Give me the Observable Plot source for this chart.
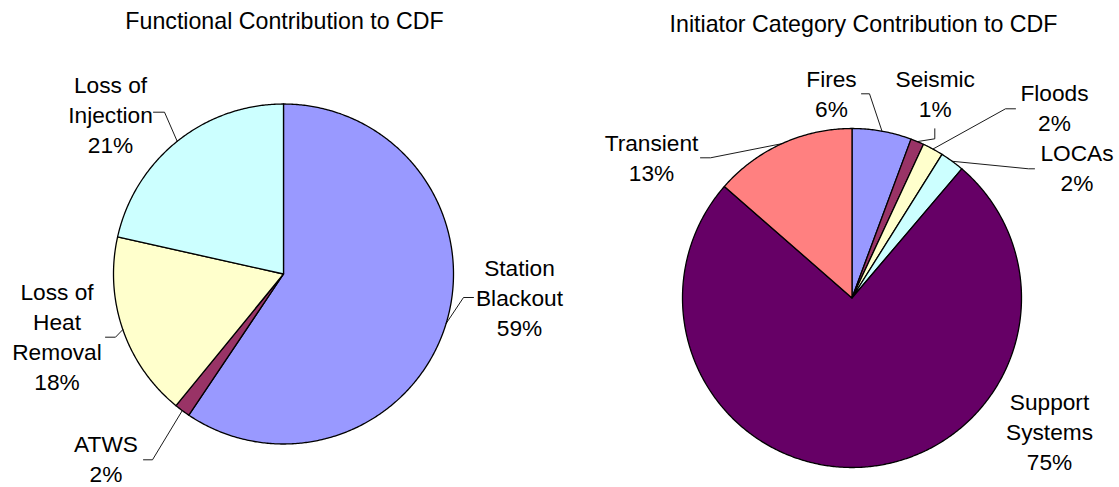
<!DOCTYPE html>
<html>
<head>
<meta charset="utf-8">
<script src="https://cdn.jsdelivr.net/npm/d3@7"></script>
<script src="https://cdn.jsdelivr.net/npm/@observablehq/plot@0.6"></script>
<style>
  html, body { margin: 0; padding: 0; background: #fff; }
  #chart svg { display: block; }
</style>
</head>
<body>
<div id="chart"></div>
<script>
// ---------- DATA ----------
const functionalTitle = "Functional Contribution to CDF";
const functionalCategories = ["Station Blackout", "ATWS", "Loss of Heat Removal", "Loss of Injection"];
const functionalValues = [59.4, 1.5, 17.6, 21.5];
const functionalPercentLabels = ["59%", "2%", "18%", "21%"];
const functionalLabelLines = [["Station", "Blackout"], ["ATWS"], ["Loss of", "Heat", "Removal"], ["Loss of", "Injection"]];

const initiatorTitle = "Initiator Category Contribution to CDF";
const initiatorCategories = ["Fires", "Seismic", "Floods", "LOCAs", "Support Systems", "Transient"];
const initiatorValues = [5.66, 1.27, 1.98, 2.3, 75.2, 13.56];
const initiatorPercentLabels = ["6%", "1%", "2%", "2%", "75%", "13%"];
const initiatorLabelLines = [["Fires"], ["Seismic"], ["Floods"], ["LOCAs"], ["Support", "Systems"], ["Transient"]];

// ---------- STYLES / LAYOUT ----------
const functionalPalette = ["#9999FF", "#993366", "#FFFFCC", "#CCFFFF"];
const initiatorPalette = ["#9999FF", "#993366", "#FFFFCC", "#CCFFFF", "#660066", "#FF8080"];

const W = 1119, H = 487;
const FONT = "'Liberation Sans', Arial, Helvetica, sans-serif";
const LABEL_SIZE = 22.7, TITLE_SIZE = 23.2, LINE_STEP = 30;

const layouts = [
  {
    title: functionalTitle, titleX: 284, titleY: 28.5,
    cx: 283, cy: 273.5, r: 170,
    cats: functionalCategories, values: functionalValues, pct: functionalPercentLabels,
    lines: functionalLabelLines, palette: functionalPalette,
    labels: [
      {x: 519, b: 275, leader: [[473, 297], [463, 297]]},
      {x: 105.5, b: 451.7, leader: [[143, 459.3], [152, 459.3]]},
      {x: 56.5, b: 299.3, leader: [[105, 336.7], [115, 336.7]]},
      {x: 110, b: 92, leader: [[153, 111.7], [164, 111.7]]}
    ]
  },
  {
    title: initiatorTitle, titleX: 863, titleY: 31.5,
    cx: 851.5, cy: 297.5, r: 169.5,
    cats: initiatorCategories, values: initiatorValues, pct: initiatorPercentLabels,
    lines: initiatorLabelLines, palette: initiatorPalette,
    labels: [
      {x: 831, b: 86.7, leader: [[861, 93.3], [869, 93.3]]},
      {x: 934.7, b: 86.7, leader: [[934.3, 128.3], [934.3, 138.3]]},
      {x: 1054, b: 100.8, leader: [[1015, 108.3], [1005, 108.3]]},
      {x: 1076.5, b: 160.7, leader: [[1034, 168.3], [1028, 168.3]]},
      {x: 1049, b: 409, leader: null},
      {x: 651, b: 150, leader: [[700, 157.3], [710, 157.3]]}
    ]
  }
];

// ---------- BUILD TABLES ----------
const slicePts = [], leaderPts = [], textRows = [], titleRows = [];
layouts.forEach((L, pi) => {
  titleRows.push({x: L.titleX, y: L.titleY, text: L.title});
  const arcs = d3.pie().sort(null).value(d => d)(L.values);
  arcs.forEach((a, i) => {
    const key = `p${pi}-s${i}`;
    const color = L.palette[i];
    slicePts.push({key, color, px: L.cx, py: L.cy});
    const n = Math.max(2, Math.ceil((a.endAngle - a.startAngle) / (Math.PI / 360)));
    for (let k = 0; k <= n; k++) {
      const t = a.startAngle + (a.endAngle - a.startAngle) * k / n;
      slicePts.push({key, color, px: L.cx + L.r * Math.sin(t), py: L.cy - L.r * Math.cos(t)});
    }
    const lab = L.labels[i];
    const lines = [...L.lines[i], L.pct[i]];
    lines.forEach((s, j) => textRows.push({x: lab.x, y: lab.b + j * LINE_STEP, text: s}));
    if (lab.leader) {
      const mid = (a.startAngle + a.endAngle) / 2;
      const pts = [...lab.leader, [L.cx + L.r * Math.sin(mid), L.cy - L.r * Math.cos(mid)]];
      pts.forEach(([px, py]) => leaderPts.push({key, px, py}));
    }
  });
});

const chart = Plot.plot({
  width: W, height: H,
  margin: 0,
  x: {domain: [0, W], range: [0, W], axis: null},
  y: {domain: [0, H], range: [0, H], axis: null},
  color: {type: "identity"},
  style: {fontFamily: FONT, background: "#fff"},
  marks: [
    Plot.line(slicePts, {x: "px", y: "py", z: "key", fill: "color", stroke: "#000", strokeWidth: 1.3, curve: "linear-closed", strokeLinejoin: "round"}),
    Plot.line(leaderPts, {x: "px", y: "py", z: "key", stroke: "#000", strokeWidth: 0.9}),
    Plot.text(textRows, {x: "x", y: "y", text: "text", fontSize: LABEL_SIZE, lineAnchor: "bottom", fill: "#000", fontFamily: FONT}),
    Plot.text(titleRows, {x: "x", y: "y", text: "text", fontSize: TITLE_SIZE, lineAnchor: "bottom", fill: "#000", fontFamily: FONT})
  ]
});
document.getElementById("chart").appendChild(chart);
</script>
</body>
</html>
